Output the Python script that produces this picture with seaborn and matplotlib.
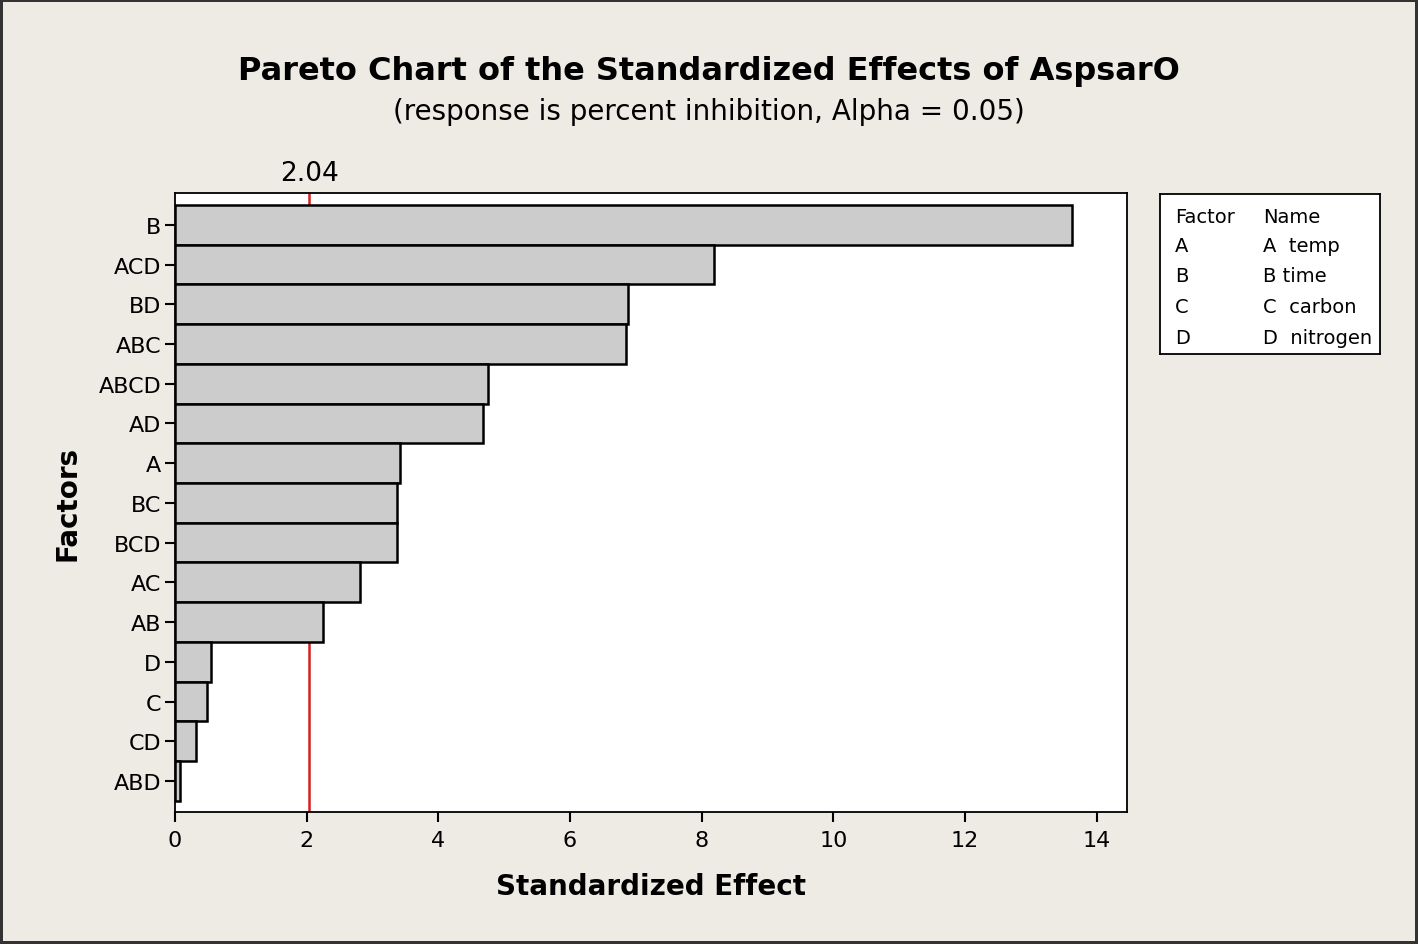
import numpy as np
import pandas as pd
import matplotlib
matplotlib.use("Agg")
import matplotlib.pyplot as plt
import seaborn as sns

# Data
factors = ["B", "ACD", "BD", "ABC", "ABCD", "AD", "A", "BC", "BCD",
           "AC", "AB", "D", "C", "CD", "ABD"]
effects = [13.63, 8.18, 6.88, 6.85, 4.75, 4.68, 3.42, 3.37, 3.37,
           2.81, 2.25, 0.55, 0.49, 0.32, 0.08]
critical_value = 2.04
legend_factors = ["A", "B", "C", "D"]
legend_names = ["A  temp", "B time", "C  carbon", "D  nitrogen"]
x_ticks = [0, 2, 4, 6, 8, 10, 12, 14]

bg = "#EEEAE4"

sns.set_theme(style="ticks")
plt.rcParams["font.family"] = ["DejaVu Sans"]
plt.rcParams["text.color"] = "black"
plt.rcParams["axes.labelcolor"] = "black"
plt.rcParams["xtick.color"] = "black"
plt.rcParams["ytick.color"] = "black"

df = pd.DataFrame({"Factor": factors, "Effect": effects})

fig = plt.figure(figsize=(14.18, 9.45), dpi=100, facecolor=bg,
                 edgecolor="#333333", linewidth=3)
ax = fig.add_axes([0.1234, 0.1397, 0.6714, 0.655])
ax.set_facecolor("white")

sns.barplot(data=df, x="Effect", y="Factor", orient="h", color="#cccccc",
            saturation=1, edgecolor="black", linewidth=1.8, width=1.0, ax=ax)

# critical value line
ax.axvline(critical_value, color="#d42020", linewidth=1.8, zorder=0.5)
ax.text(critical_value, 1.012, f"{critical_value:.2f}", transform=ax.get_xaxis_transform(),
        ha="center", va="bottom", fontsize=19)

ax.set_xlim(0, 14.46)
ax.set_ylim(14.78, -0.8)
ax.set_xticks(x_ticks)
ax.tick_params(axis="both", labelsize=16, length=7, width=1.5, color="black")
ax.tick_params(axis="y", pad=3)
ax.tick_params(axis="x", pad=6)
for s in ax.spines.values():
    s.set_color("black")
    s.set_linewidth(1.3)

ax.set_xlabel("Standardized Effect", fontsize=20, fontweight="bold", labelpad=16)
ax.set_ylabel("Factors", fontsize=20, fontweight="bold", labelpad=12)

fig.text(0.5, 0.924, "Pareto Chart of the Standardized Effects of AspsarO",
         ha="center", va="center", fontsize=23, fontweight="bold")
fig.text(0.5, 0.882, "(response is percent inhibition, Alpha = 0.05)",
         ha="center", va="center", fontsize=20)

# factor legend box
lax = fig.add_axes([0.818, 0.6243, 0.155, 0.169])
lax.set_facecolor("white")
lax.set_xticks([])
lax.set_yticks([])
for s in lax.spines.values():
    s.set_color("black")
    s.set_linewidth(1.3)
rows_y = [0.8625, 0.681, 0.494, 0.30, 0.106]
lax.text(0.068, rows_y[0], "Factor", fontsize=14, va="center", transform=lax.transAxes)
lax.text(0.468, rows_y[0], "Name", fontsize=14, va="center", transform=lax.transAxes)
for f, n, y in zip(legend_factors, legend_names, rows_y[1:]):
    lax.text(0.068, y, f, fontsize=14, va="center", transform=lax.transAxes)
    lax.text(0.468, y, n, fontsize=14, va="center", transform=lax.transAxes)

fig.savefig("out.png", dpi=100, facecolor=bg)
